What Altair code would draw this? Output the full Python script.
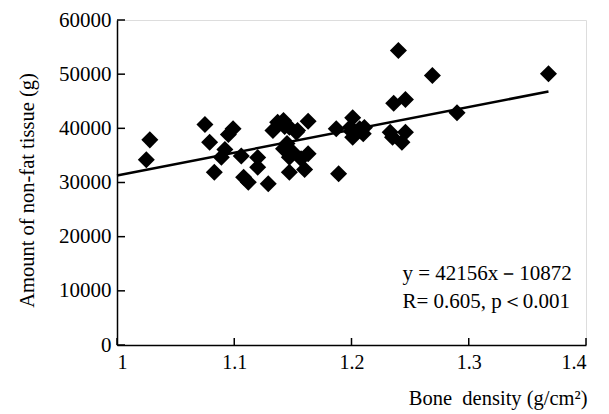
import altair as alt
import pandas as pd

# Data
bone_density = [1.025, 1.028, 1.075, 1.079, 1.083, 1.099, 1.095, 1.092, 1.089, 1.106,
                1.108, 1.112, 1.120, 1.120, 1.129, 1.133, 1.137, 1.142, 1.143, 1.147,
                1.142, 1.145, 1.147, 1.150, 1.147, 1.153, 1.154, 1.157, 1.160, 1.163,
                1.163, 1.187, 1.189, 1.199, 1.201, 1.201, 1.200, 1.207, 1.210, 1.211,
                1.233, 1.235, 1.236, 1.240, 1.246, 1.243, 1.246, 1.269, 1.290, 1.368]
non_fat = [34190, 37870, 40700, 37440, 31900, 39910, 38860, 36090, 34670, 34890,
           30980, 30050, 34610, 32820, 29760, 39600, 41130, 41440, 40330, 40210,
           36220, 37200, 34670, 35590, 31900, 39280, 39600, 34370, 32400, 41310,
           35290, 39910, 31600, 40210, 41940, 38360, 39410, 39910, 38990, 40150,
           39280, 38360, 44640, 54360, 45320, 37440, 39280, 49750, 42860, 50060]

fit_x = [1.0, 1.368]
fit_y = [31300, 46800]

x_ticks = [1.0, 1.1, 1.2, 1.3, 1.4]
y_ticks = [0, 10000, 20000, 30000, 40000, 50000, 60000]

ann_text = ["y = 42156x\uff0d10872", "R= 0.605, p\uff1c0.001"]
ann_x = [1.2435, 1.2435]
ann_y = [13200, 7850]

FONT = "Liberation Serif"

pts = pd.DataFrame({"x": bone_density, "y": non_fat})
fit = pd.DataFrame({"x": fit_x, "y": fit_y})
ann = pd.DataFrame({"x": ann_x, "y": ann_y, "t": ann_text})
xt = pd.DataFrame({"tx": x_ticks})
yt = pd.DataFrame({"ty": y_ticks})

xscale = alt.Scale(domain=[1.0, 1.4], nice=False, zero=False)
yscale = alt.Scale(domain=[0, 60000], nice=False)

xaxis = alt.Axis(values=x_ticks, format="~g", ticks=False, grid=False,
                 domainColor="black", domainWidth=1.5,
                 labelFont=FONT, labelFontSize=20, labelColor="black", labelPadding=7,
                 title="Bone\u2002density (g/cm\u00b2)", titleFont=FONT, titleFontSize=20.5,
                 titleFontWeight="normal", titleColor="black",
                 titleAnchor="end", titleAlign="right", titleX=470, titleY=53,
                 titleBaseline="middle")
yaxis = alt.Axis(values=y_ticks, format="d", ticks=False, grid=False,
                 domainColor="black", domainWidth=1.5,
                 labelFont=FONT, labelFontSize=21, labelColor="black", labelPadding=6,
                 title="Amount of non-fat tissue (g)", titleFont=FONT, titleFontSize=20.5,
                 titleFontWeight="normal", titleColor="black",
                 titleX=-90, titleY=170, titleAngle=270, titleBaseline="middle",
                 titleAlign="center")

base_x = alt.X("x:Q", scale=xscale, axis=xaxis)
base_y = alt.Y("y:Q", scale=yscale, axis=yaxis)

points = alt.Chart(pts).mark_point(shape="diamond", filled=True, color="black",
                                   opacity=1, size=290).encode(x=base_x, y=base_y)

line = alt.Chart(fit).mark_line(color="black", strokeWidth=2.5).encode(
    x=alt.X("x:Q", scale=xscale), y=alt.Y("y:Q", scale=yscale))

text = alt.Chart(ann).mark_text(align="left", baseline="middle", font=FONT,
                                fontSize=21, color="black").encode(
    x=alt.X("x:Q", scale=xscale), y=alt.Y("y:Q", scale=yscale), text="t:N")

# inward-pointing axis ticks
xticks = alt.Chart(xt).mark_rule(color="black", strokeWidth=1.5).encode(
    x=alt.X("tx:Q", scale=xscale), y=alt.value(325), y2=alt.value(318))

yticks = alt.Chart(yt).mark_rule(color="black", strokeWidth=1.5).encode(
    y=alt.Y("ty:Q", scale=yscale), x=alt.value(0), x2=alt.value(8))

chart = alt.layer(points, line, text, xticks, yticks).properties(
    width=469, height=325,
    autosize=alt.AutoSizeParams(type="none"),
    padding={"left": 109, "top": 12, "right": 15, "bottom": 66},
).configure_view(stroke=None).configure(background="white")

chart.save("out.html", embed_options={"renderer": "svg", "actions": False})
